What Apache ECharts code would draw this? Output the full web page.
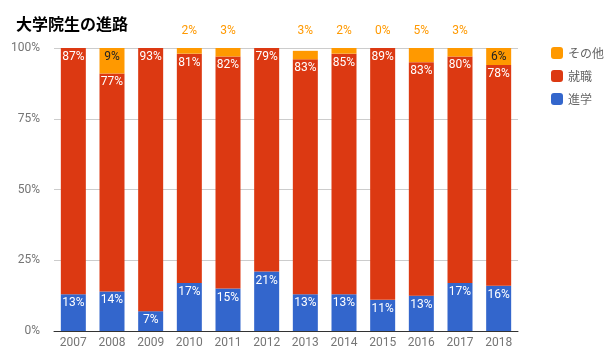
<!DOCTYPE html>
<html><head><meta charset="utf-8">
<script src="https://cdn.jsdelivr.net/npm/echarts@6/dist/echarts.min.js"></script>
<style>html,body{margin:0;padding:0;background:#fff}#c{width:608px;height:361px}</style>
</head><body><div id="c"></div>
<script>
const years = ['2007','2008','2009','2010','2011','2012','2013','2014','2015','2016','2017','2018'];
const shingaku = [13, 14, 7, 17, 15, 21, 13, 13, 11, 12.5, 17, 16];
const shushoku = [87, 77, 93, 81, 82, 79, 83, 85, 89, 82.5, 80, 78];
const sonota = [null, 9, null, 2, 3, null, 3, 2, 0, 5, 3, 6];
const yTicks = [0, 25, 50, 75, 100];

const BLUE = '#3366cc', RED = '#dc3912', ORANGE = '#ff9900';
const NUM = 'Roboto, "Noto Sans CJK JP", sans-serif';
const fmt = p => Math.round(p.value) + '%';

const chart = echarts.init(document.getElementById('c'), null, {renderer: 'canvas'});

const sonotaData = sonota.map((v, i) => {
  if (v === null) return null;
  if (v >= 6) {
    return {value: v, label: {position: 'insideTop', distance: 3, color: '#222'}};
  }
  const total = shingaku[i] + shushoku[i] + v;
  return {value: v, label: {position: 'top', distance: 11 + (100 - total) * 2.83, color: ORANGE}};
});

chart.setOption({
  animation: false,
  textStyle: {fontFamily: NUM},
  title: {
    text: '大学院生の進路', left: 11, top: 11,
    textStyle: {fontFamily: '"Noto Sans CJK JP", sans-serif', fontSize: 16, fontWeight: 'bold', color: '#000'}
  },
  legend: {
    data: ['その他', '就職', '進学'],
    orient: 'vertical', left: 546, top: 42,
    itemWidth: 12, itemHeight: 12, itemGap: 11,
    icon: 'roundRect',
    textStyle: {fontFamily: '"Noto Sans CJK JP", sans-serif', fontSize: 12, color: '#666'}
  },
  grid: {left: 54, right: 90, top: 48, bottom: 30},
  xAxis: {
    type: 'category', data: years,
    axisTick: {show: false},
    axisLine: {lineStyle: {color: '#333', width: 1}},
    axisLabel: {color: '#757575', fontSize: 12, margin: 6, fontFamily: NUM}
  },
  yAxis: {
    type: 'value', min: yTicks[0], max: yTicks[yTicks.length - 1], interval: 25,
    axisLine: {show: false}, axisTick: {show: false},
    axisLabel: {formatter: '{value}%', color: '#757575', fontSize: 12, margin: 14, fontFamily: NUM},
    splitLine: {lineStyle: {color: '#cccccc'}}
  },
  series: [
    {
      name: '進学', type: 'bar', stack: 'a', data: shingaku, barWidth: 25,
      itemStyle: {color: BLUE},
      label: {show: true, position: 'insideTop', distance: 3, color: '#fff', fontSize: 12, formatter: fmt, fontFamily: NUM}
    },
    {
      name: '就職', type: 'bar', stack: 'a', data: shushoku, barWidth: 25,
      itemStyle: {color: RED},
      label: {show: true, position: 'insideTop', distance: 3, color: '#fff', fontSize: 12, formatter: fmt, fontFamily: NUM}
    },
    {
      name: 'その他', type: 'bar', stack: 'a', data: sonotaData, barWidth: 25,
      itemStyle: {color: ORANGE},
      label: {show: true, fontSize: 12, formatter: fmt, fontFamily: NUM}
    }
  ]
});
</script></body></html>
